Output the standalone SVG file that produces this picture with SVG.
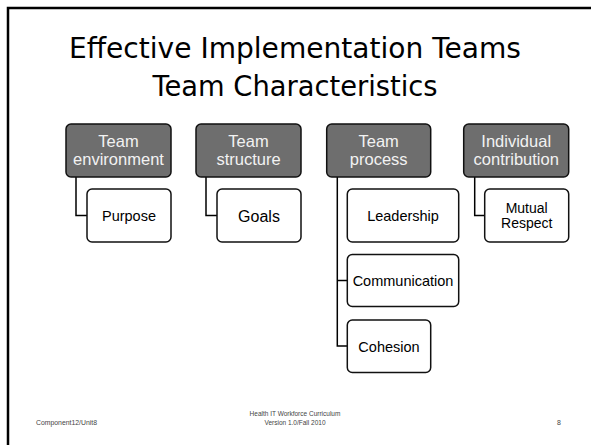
<svg xmlns="http://www.w3.org/2000/svg" width="591" height="445" viewBox="0 0 591 445">
<style>
.frame{fill:none;stroke:#000;stroke-width:2.5}
.hdr{fill:#6e6e6e;stroke:#111;stroke-width:1.5}
.chd{fill:#fff;stroke:#111;stroke-width:1.5}
.ht{font-family:"Liberation Sans",Arial,sans-serif;font-size:16.5px;fill:#f2f2f2;text-anchor:middle}
.ct{font-family:"Liberation Sans",Arial,sans-serif;font-size:14.5px;fill:#000;text-anchor:middle}
.title{font-family:"DejaVu Sans","Liberation Sans",sans-serif;font-size:28px;fill:#000;text-anchor:middle}
.foot{font-family:"Liberation Sans",Arial,sans-serif;fill:#444}
.conn{fill:none;stroke:#000;stroke-width:1.5}
</style>
<rect width="591" height="445" fill="#fff"/>
<path class="frame" d="M8,445 V8 H591"/>
<g id="title">
<text class="title" x="295" y="58" textLength="452" lengthAdjust="spacingAndGlyphs">Effective Implementation Teams</text>
<text class="title" x="295" y="96" textLength="285" lengthAdjust="spacingAndGlyphs">Team Characteristics</text>
</g>
<g id="connectors">
<path class="conn" d="M76,177 V215.5 H87"/>
<path class="conn" d="M206,177 V215.5 H217"/>
<path class="conn" d="M337.3,177 V346 H347"/>
<path class="conn" d="M337.3,280.5 H347"/>
<path class="conn" d="M474.7,177 V215.5 H485"/>
</g>
<g id="team-environment">
<rect class="hdr" x="66" y="124" width="105" height="53" rx="5"/>
<text class="ht" x="118.5" y="147">Team</text>
<text class="ht" x="118.5" y="165">environment</text>
</g>
<g id="purpose">
<rect class="chd" x="87" y="189" width="84" height="53" rx="5"/>
<text class="ct" x="129" y="221">Purpose</text>
</g>
<g id="team-structure">
<rect class="hdr" x="196" y="124" width="105" height="53" rx="5"/>
<text class="ht" x="248.5" y="147">Team</text>
<text class="ht" x="248.5" y="165">structure</text>
</g>
<g id="goals">
<rect class="chd" x="217" y="189" width="84" height="53" rx="5"/>
<text class="ct" x="259" y="221.5" style="font-size:16px">Goals</text>
</g>
<g id="team-process">
<rect class="hdr" x="326.7" y="124" width="104" height="53" rx="5"/>
<text class="ht" x="378.7" y="147">Team</text>
<text class="ht" x="378.7" y="165">process</text>
</g>
<g id="leadership">
<rect class="chd" x="347.3" y="189" width="111.4" height="53" rx="5"/>
<text class="ct" x="403" y="221">Leadership</text>
</g>
<g id="communication">
<rect class="chd" x="347.3" y="254.5" width="111.4" height="52" rx="5"/>
<text class="ct" x="403" y="286">Communication</text>
</g>
<g id="cohesion">
<rect class="chd" x="347.3" y="320" width="83.4" height="52.5" rx="5"/>
<text class="ct" x="389" y="351.5">Cohesion</text>
</g>
<g id="individual-contribution">
<rect class="hdr" x="463.7" y="124" width="105" height="53" rx="5"/>
<text class="ht" x="516.2" y="147">Individual</text>
<text class="ht" x="516.2" y="165">contribution</text>
</g>
<g id="mutual-respect">
<rect class="chd" x="484.7" y="189" width="84" height="53" rx="5"/>
<text class="ct" x="526.7" y="212.5" style="font-size:14px">Mutual</text>
<text class="ct" x="526.7" y="228" style="font-size:14px">Respect</text>
</g>
<g id="footer">
<text class="foot" x="36" y="425" style="font-size:7.5px" textLength="61" lengthAdjust="spacingAndGlyphs">Component12/Unit8</text>
<text class="foot" x="295" y="416" style="font-size:6.5px" text-anchor="middle">Health IT Workforce Curriculum</text>
<text class="foot" x="295" y="425" style="font-size:6.5px" text-anchor="middle">Version 1.0/Fall 2010</text>
<text class="foot" x="557" y="425" style="font-size:7px">8</text>
</g>
</svg>
